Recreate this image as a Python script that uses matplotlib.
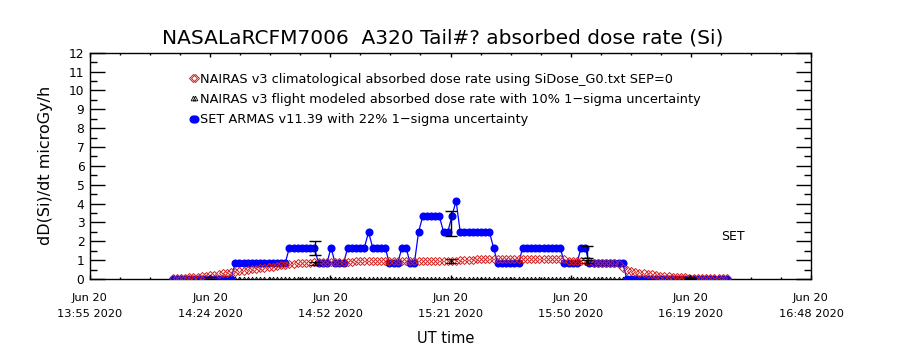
import matplotlib
matplotlib.use("Agg")
import matplotlib.pyplot as plt
from matplotlib.lines import Line2D
from matplotlib.ticker import AutoMinorLocator, FixedLocator
from datetime import datetime, timedelta

day = datetime(2020, 6, 20)


def ut(h, m, s=0):
    return day + timedelta(hours=h, minutes=m, seconds=s)


# one-minute samples, 14:15 .. 16:28 UT
t_start = ut(14, 15)
n_samples = 134
times = [t_start + timedelta(minutes=i) for i in range(n_samples)]

# SET ARMAS v11.39 absorbed dose rate (microGy/h)
armas_dose = (
    [0.0] * 15 + [0.83] * 13 + [1.66] * 7 + [0.83] * 3 + [1.66] + [0.83] * 3
    + [1.66] * 5 + [2.49] + [1.66] * 4 + [0.83] * 3 + [1.66] * 2 + [0.83] * 2
    + [2.49] + [3.32] * 5 + [2.49] * 2 + [3.32] + [4.15] + [2.49] * 8 + [1.66]
    + [0.83] * 6 + [1.66] * 10 + [0.83] * 4 + [1.66] * 2 + [0.83] * 9 + [0.0] * 25
)

# NAIRAS v3 climatological absorbed dose rate (microGy/h)
nairas_clim = [
    0.05, 0.05, 0.06, 0.07, 0.08, 0.10, 0.12,
    0.14, 0.17, 0.20, 0.23, 0.27, 0.30, 0.33, 0.36, 0.39, 0.42, 0.45, 0.48,
    0.51, 0.54, 0.57, 0.60, 0.63, 0.66, 0.69, 0.72, 0.75, 0.78, 0.81,
    0.83, 0.85, 0.86, 0.87, 0.88, 0.89, 0.90, 0.90, 0.91, 0.91, 0.92, 0.92,
    0.92, 0.92, 0.93, 0.93, 0.93, 0.93, 0.93, 0.94, 0.94, 0.94, 0.94, 0.94,
    0.94, 0.94, 0.94, 0.94, 0.94, 0.94, 0.94, 0.94, 0.95, 0.95, 0.95, 0.95,
    0.95, 0.95, 0.95,
    1.02, 1.03, 1.03, 1.03, 1.04, 1.04, 1.04, 1.04, 1.04, 1.04, 1.04, 1.05,
    1.05, 1.05, 1.05, 1.05, 1.05, 1.05, 1.06, 1.06,
    1.06, 1.06, 1.06, 1.06, 1.06, 1.06,
    0.98, 0.97, 0.97, 0.97, 0.96, 0.95,
    0.86, 0.85, 0.84, 0.84, 0.83, 0.83, 0.82,
    0.57, 0.50, 0.44, 0.39, 0.34, 0.31, 0.27, 0.24, 0.21, 0.18, 0.16, 0.14,
    0.12, 0.10, 0.09, 0.08, 0.07, 0.06, 0.06, 0.05, 0.05, 0.05, 0.04, 0.04,
    0.04, 0.04,
]

# NAIRAS v3 flight-modeled rate on the sample grid (no model output -> 0)
nairas_flight = [0.0] * n_samples

# checkpoints where the flight model was evaluated
check_times = [ut(14, 24, 0), ut(14, 49, 10), ut(15, 21, 45), ut(15, 54, 25), ut(16, 19, 5)]
check_nairas = [0.12, 0.83, 0.95, 0.915, 0.08]
check_armas = [0.0, 1.66, 2.94, 1.45, 0.0]
nairas_sigma = 0.10
armas_sigma = 0.22

# axis range and labels
x_min, x_max = ut(13, 55, 10), ut(16, 48, 10)
x_ticks = [ut(13, 55, 10), ut(14, 24, 0), ut(14, 52, 50), ut(15, 21, 40),
           ut(15, 50, 30), ut(16, 19, 20), ut(16, 48, 10)]
x_ticklabels = ["Jun 20\n13:55 2020", "Jun 20\n14:24 2020", "Jun 20\n14:52 2020",
                "Jun 20\n15:21 2020", "Jun 20\n15:50 2020", "Jun 20\n16:19 2020",
                "Jun 20\n16:48 2020"]
y_ticks = list(range(0, 13))
y_ticklabels = [str(v) for v in y_ticks]

legend_labels = [
    "NAIRAS v3 climatological absorbed dose rate using SiDose_G0.txt SEP=0",
    "NAIRAS v3 flight modeled absorbed dose rate with 10% 1\u2212sigma uncertainty",
    "SET ARMAS v11.39 with 22% 1\u2212sigma uncertainty",
]

BLUE = "#0000ff"
RED = "#d42020"

plt.rcParams["font.family"] = ["DejaVu Sans"]

fig = plt.figure(figsize=(9, 3.5), dpi=100, facecolor="white")
ax = fig.add_axes([90 / 900, 1 - 279 / 350, 721 / 900, (279 - 52.7) / 350])

# flight-modeled zeros along the baseline
ax.plot(times, nairas_flight, ls="none", marker="^", ms=3.4, mfc="none",
        mec="black", mew=0.6, zorder=2)
# ARMAS measurements
ax.plot(times, armas_dose, color=BLUE, lw=0.9, marker="o", ms=4.8,
        mfc=BLUE, mec=BLUE, zorder=3)
# climatological model
ax.plot(times, nairas_clim, ls="none", marker="D", ms=4.3, mfc="none",
        mec=RED, mew=0.7, zorder=4)
# checkpoints with 1-sigma bars
ax.errorbar(check_times, check_nairas, yerr=[v * nairas_sigma for v in check_nairas],
            fmt="^", ms=3.4, mfc="none", mec="black", mew=0.6, ecolor="black",
            elinewidth=1, capsize=4, capthick=1, zorder=5)
ax.errorbar(check_times, check_armas, yerr=[v * armas_sigma for v in check_armas],
            fmt="none", ecolor="black", elinewidth=1, capsize=4, capthick=1, zorder=5)

ax.text(ut(16, 26, 35), 2.24, "SET", fontsize=9, va="center", ha="left")

ax.set_xlim(x_min, x_max)
ax.set_ylim(0, 12)
ax.xaxis.set_major_locator(FixedLocator([matplotlib.dates.date2num(t) for t in x_ticks]))
ax.set_xticklabels(x_ticklabels, fontsize=8.2, linespacing=1.72)
ax.xaxis.set_minor_locator(AutoMinorLocator(4))
ax.set_yticks(y_ticks)
ax.set_yticklabels(y_ticklabels, fontsize=8.8)
ax.yaxis.set_minor_locator(AutoMinorLocator(2))

ax.tick_params(which="both", direction="in", top=True, right=True, color="black",
               width=1)
ax.tick_params(axis="y", which="major", length=10.8, pad=4)
ax.tick_params(axis="y", which="minor", length=5)
ax.tick_params(axis="x", which="major", length=3.2, pad=10)
ax.tick_params(axis="x", which="minor", length=1.7)
for sp in ax.spines.values():
    sp.set_linewidth(1)
    sp.set_color("black")

ax.set_ylabel("dD(Si)/dt microGy/h", fontsize=11.5)
ax.yaxis.set_label_coords(-0.051, 0.5)
ax.set_xlabel("UT time", fontsize=10.5)
ax.xaxis.set_label_coords(0.494, -0.228)

fig.text(443 / 900, 1 - 38 / 350, "NASALaRCFM7006  A320 Tail#? absorbed dose rate (Si)",
         fontsize=14.5, ha="center", va="center")

handles = [
    Line2D([], [], ls="none", marker="D", ms=4.3, mfc="none", mec=RED, mew=0.7),
    Line2D([], [], ls="none", marker="^", ms=3.4, mfc="none", mec="black", mew=0.6),
    Line2D([], [], color=BLUE, lw=0.9, marker="o", ms=4.8, mfc=BLUE, mec=BLUE),
]
ax.legend(handles, legend_labels, loc="upper left",
          bbox_to_anchor=(189 / 900, 1 - 72.5 / 350), bbox_transform=fig.transFigure,
          frameon=False, fontsize=9.3, numpoints=2, handlelength=0.75,
          handletextpad=0.1, labelspacing=0.58, borderpad=0, borderaxespad=0)

fig.savefig("out.png", dpi=100, facecolor="white")
